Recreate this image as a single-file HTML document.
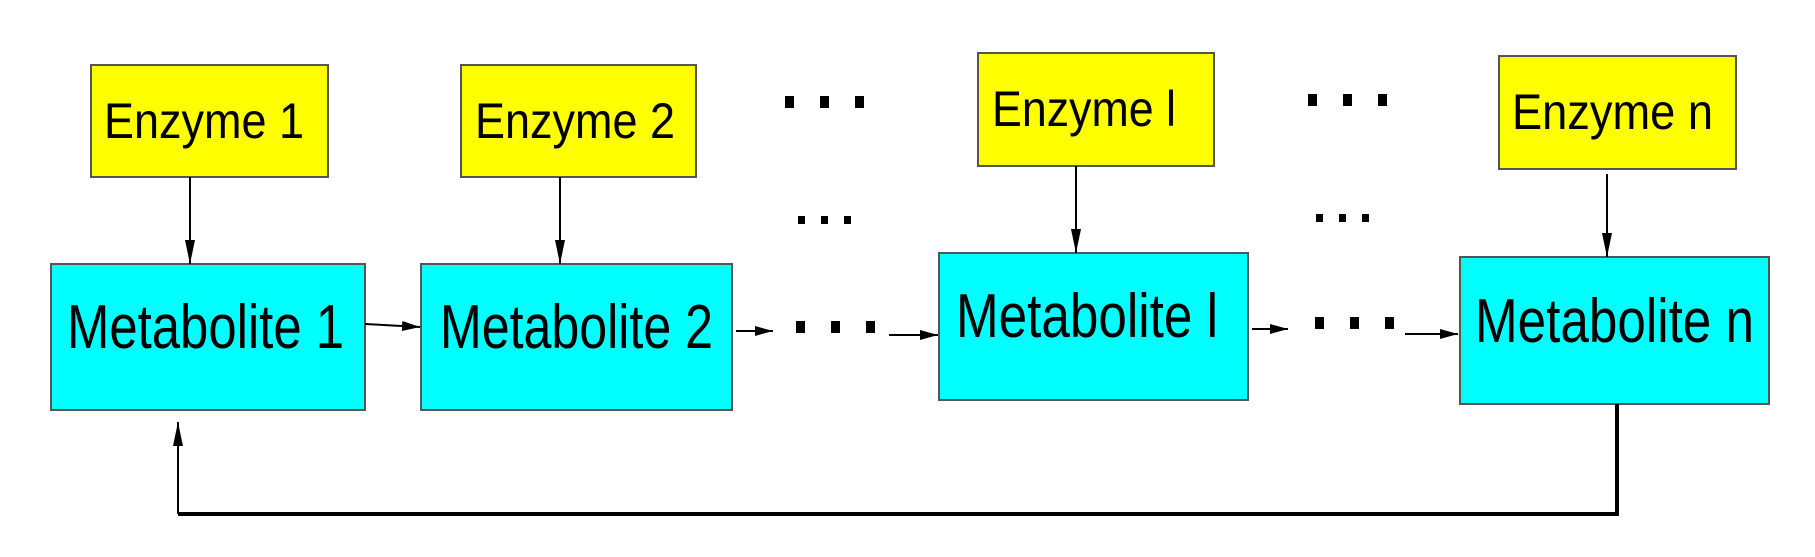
<!DOCTYPE html>
<html><head><style>html,body{margin:0;padding:0;background:#fff}svg{display:block}</style></head><body>
<svg width="1815" height="557" viewBox="0 0 1815 557" xmlns="http://www.w3.org/2000/svg" font-family="Liberation Sans, Arial, sans-serif">
<defs><marker id="a" markerWidth="18" markerHeight="10" refX="18" refY="5" orient="auto" markerUnits="userSpaceOnUse"><path d="M0,0L18,5L0,10z" fill="#000"/></marker>
<marker id="b" markerWidth="24" markerHeight="10" refX="24" refY="5" orient="auto" markerUnits="userSpaceOnUse"><path d="M0,0L24,5L0,10z" fill="#000"/></marker></defs>
<g stroke="#555" stroke-width="2">
<rect x="91" y="65" width="237" height="112" fill="#ffff00"/>
<rect x="461" y="65" width="235" height="112" fill="#ffff00"/>
<rect x="978" y="53" width="236" height="113" fill="#ffff00"/>
<rect x="1499" y="56" width="237" height="113" fill="#ffff00"/>
<rect x="51" y="264" width="314" height="146" fill="#00ffff"/>
<rect x="421" y="264" width="311" height="146" fill="#00ffff"/>
<rect x="939" y="253" width="309" height="147" fill="#00ffff"/>
<rect x="1460" y="257" width="309" height="147" fill="#00ffff"/>
</g>
<g font-size="50" fill="#000">
<text x="104" y="138" textLength="200" lengthAdjust="spacingAndGlyphs">Enzyme 1</text>
<text x="475" y="138" textLength="200" lengthAdjust="spacingAndGlyphs">Enzyme 2</text>
<text x="992" y="126" textLength="184" lengthAdjust="spacingAndGlyphs">Enzyme l</text>
<text x="1512" y="129" textLength="201" lengthAdjust="spacingAndGlyphs">Enzyme n</text>
</g>
<g font-size="62" fill="#000">
<text x="67" y="348" textLength="277" lengthAdjust="spacingAndGlyphs">Metabolite 1</text>
<text x="440" y="348" textLength="273" lengthAdjust="spacingAndGlyphs">Metabolite 2</text>
<text x="956" y="337" textLength="262" lengthAdjust="spacingAndGlyphs">Metabolite l</text>
<text x="1475" y="342" textLength="279" lengthAdjust="spacingAndGlyphs">Metabolite n</text>
</g>
<g stroke="#000" stroke-width="2" fill="none">
<line x1="190" y1="177" x2="190" y2="264" marker-end="url(#b)"/>
<line x1="560" y1="177" x2="560" y2="264" marker-end="url(#b)"/>
<line x1="1076" y1="166" x2="1076" y2="253" marker-end="url(#b)"/>
<line x1="1607" y1="174" x2="1607" y2="257" marker-end="url(#b)"/>
<line x1="365" y1="324" x2="420" y2="327" marker-end="url(#a)"/>
<line x1="736" y1="331" x2="773" y2="331" marker-end="url(#a)"/>
<line x1="889" y1="335" x2="938" y2="335" marker-end="url(#a)"/>
<line x1="1252" y1="329" x2="1288" y2="329" marker-end="url(#a)"/>
<line x1="1405" y1="334" x2="1458" y2="334" marker-end="url(#a)"/>
<polyline points="1617,404 1617,514 178,514" stroke-width="4"/>
<line x1="178" y1="514" x2="178" y2="422" marker-end="url(#b)"/>
</g>
<g fill="#000">
<rect x="785" y="96" width="9" height="12"/><rect x="820" y="96" width="9" height="12"/><rect x="855" y="96" width="9" height="12"/>
<rect x="1308" y="94" width="9" height="12"/><rect x="1343" y="94" width="9" height="12"/><rect x="1378" y="94" width="9" height="12"/>
<rect x="798" y="216" width="7" height="8"/><rect x="821" y="216" width="7" height="8"/><rect x="844" y="216" width="7" height="8"/>
<rect x="1316" y="214" width="7" height="8"/><rect x="1339" y="214" width="7" height="8"/><rect x="1362" y="214" width="7" height="8"/>
<rect x="796" y="321" width="9" height="12"/><rect x="831" y="321" width="9" height="12"/><rect x="866" y="321" width="9" height="12"/>
<rect x="1315" y="317" width="9" height="12"/><rect x="1350" y="317" width="9" height="12"/><rect x="1385" y="317" width="9" height="12"/>
</g>
</svg>
</body></html>
